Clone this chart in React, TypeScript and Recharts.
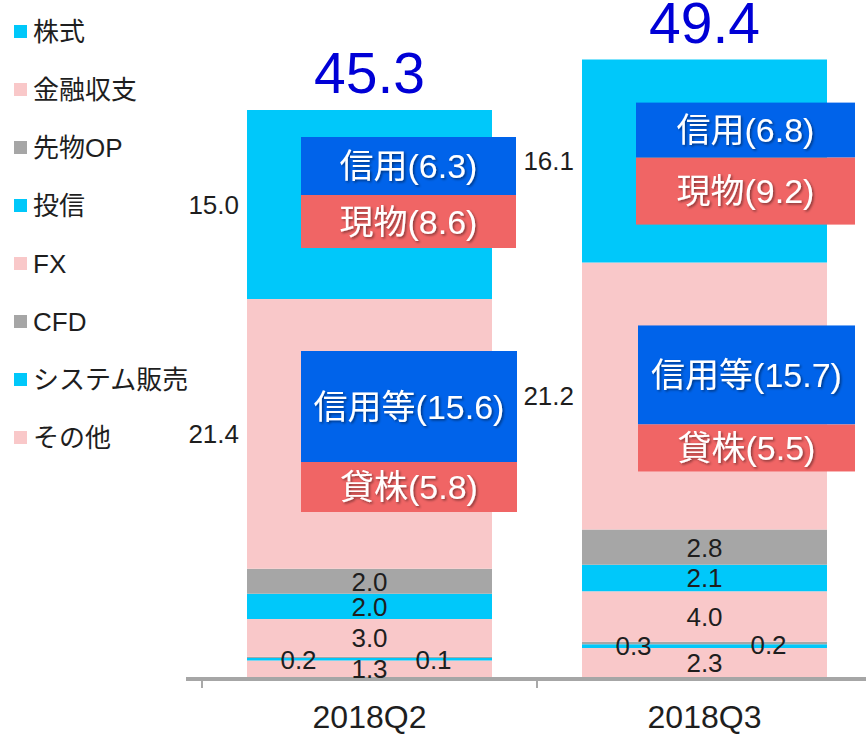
import React from 'react';
import { BarChart, Bar, XAxis, YAxis, LabelList } from 'recharts';

// ---- data ----
const categories = ['2018Q2', '2018Q3'];
const totals = [45.3, 49.4];
const sonotaVals = [1.3, 2.3];
const systemVals = [0.2, 0.3];
const cfdVals = [0.1, 0.2];
const fxVals = [3.0, 4.0];
const toushinVals = [2.0, 2.1];
const sakimonoVals = [2.0, 2.8];
const kinyuVals = [21.4, 21.2];
const kabuVals = [15.0, 16.1];

// breakdown callouts
const shinyouVals = [6.3, 6.8];
const genbutsuVals = [8.6, 9.2];
const shinyouTouVals = [15.6, 15.7];
const kashikabuVals = [5.8, 5.5];

const legendNames = ['株式', '金融収支', '先物OP', '投信', 'FX', 'CFD', 'システム販売', 'その他'];

// ---- styles / layout ----
const CYAN = '#00C8FA';
const PINK = '#F9C8C9';
const GRAY = '#A6A6A6';
const BLUE_BOX = '#0063EA';
const RED_BOX = '#F06565';
const TOTAL_BLUE = '#0000D6';
const TEXT = '#1E1E1E';
const FONT = "'Liberation Sans', Arial, 'Noto Sans CJK JP', sans-serif";
const VAL_FS = 26;

const CHART_W = 880;
const CHART_H = 735;
const MARGIN = { top: 47, right: 8, bottom: 0, left: 186 };
const PAD_LEFT = 16;
const BAND = (CHART_W - MARGIN.left - MARGIN.right - PAD_LEFT) / categories.length;

const legendColors = [CYAN, PINK, GRAY, CYAN, PINK, GRAY, CYAN, PINK];

// callout box placement relative to the bar segment (layout only)
const kabuBoxLayout = [
  { dx: 54, dy: 27, w: 215, h1: 58, h2: 53 },
  { dx: 54, dy: 43, w: 219, h1: 55, h2: 67 },
];
const kinyuBoxLayout = [
  { dx: 54, dy: 52, w: 216, h1: 111, h2: 50 },
  { dx: 56, dy: 63, w: 217, h1: 99, h2: 47 },
];

const data = categories.map((c, i) => ({
  category: c,
  sonota: sonotaVals[i],
  system: systemVals[i],
  cfd: cfdVals[i],
  fx: fxVals[i],
  toushin: toushinVals[i],
  sakimono: sakimonoVals[i],
  kinyu: kinyuVals[i],
  kabu: kabuVals[i],
}));

const fmt = (v: any) => Number(v).toFixed(1);

const CenterLabel = (p: any) => (
  <text
    x={p.x + p.width / 2}
    y={p.y + p.height / 2}
    dy="0.36em"
    textAnchor="middle"
    fontSize={VAL_FS}
    fontFamily={FONT}
    fill={TEXT}
  >
    {fmt(p.value)}
  </text>
);

const SmallLeftLabel = (p: any) => (
  <text
    x={p.x + p.width / 2 - 71}
    y={p.y + p.height / 2}
    dy="0.36em"
    textAnchor="middle"
    fontSize={VAL_FS}
    fontFamily={FONT}
    fill={TEXT}
  >
    {fmt(p.value)}
  </text>
);

const SmallRightLabel = (p: any) => (
  <text
    x={p.x + p.width / 2 + 64}
    y={p.y + p.height / 2 + 2}
    dy="0.36em"
    textAnchor="middle"
    fontSize={VAL_FS}
    fontFamily={FONT}
    fill={TEXT}
  >
    {fmt(p.value)}
  </text>
);

const SideLabel = (p: any) => (
  <text
    x={p.x - 8}
    y={p.y + p.height / 2}
    dy="0.36em"
    textAnchor="end"
    fontSize={VAL_FS}
    fontFamily={FONT}
    fill={TEXT}
  >
    {fmt(p.value)}
  </text>
);

const Callout = ({ x, y, w, h1, h2, t1, t2 }: any) => (
  <g>
    <rect x={x} y={y} width={w} height={h1} fill={BLUE_BOX} />
    <rect x={x} y={y + h1} width={w} height={h2} fill={RED_BOX} />
    <text
      x={x + w / 2}
      y={y + h1 / 2}
      dy="0.36em"
      textAnchor="middle"
      fontSize={34}
      fontFamily={FONT}
      fill="#FFFFFF"
      filter="url(#txtShadow)"
    >
      {t1}
    </text>
    <text
      x={x + w / 2}
      y={y + h1 + h2 / 2}
      dy="0.36em"
      textAnchor="middle"
      fontSize={34}
      fontFamily={FONT}
      fill="#FFFFFF"
      filter="url(#txtShadow)"
    >
      {t2}
    </text>
  </g>
);

const KabuLabel = (p: any) => {
  const i = p.index ?? 0;
  const L = kabuBoxLayout[i];
  return (
    <g>
      <SideLabel {...p} />
      <text
        x={p.x + p.width / 2}
        y={p.y - 17}
        textAnchor="middle"
        fontSize={57}
        fontFamily={FONT}
        fill={TOTAL_BLUE}
      >
        {fmt(totals[i])}
      </text>
      <Callout
        x={p.x + L.dx}
        y={p.y + L.dy}
        w={L.w}
        h1={L.h1}
        h2={L.h2}
        t1={`信用(${fmt(shinyouVals[i])})`}
        t2={`現物(${fmt(genbutsuVals[i])})`}
      />
    </g>
  );
};

const KinyuLabel = (p: any) => {
  const i = p.index ?? 0;
  const L = kinyuBoxLayout[i];
  return (
    <g>
      <SideLabel {...p} />
      <Callout
        x={p.x + L.dx}
        y={p.y + L.dy}
        w={L.w}
        h1={L.h1}
        h2={L.h2}
        t1={`信用等(${fmt(shinyouTouVals[i])})`}
        t2={`貸株(${fmt(kashikabuVals[i])})`}
      />
    </g>
  );
};

const AxisTick = (p: any) => {
  const { x, y, payload } = p;
  return (
    <g>
      <line x1={x - BAND / 2} x2={x - BAND / 2} y1={y + 4} y2={y + 11} stroke="#8C8C8C" strokeWidth={1.5} />
      <text x={x} y={y + 51} textAnchor="middle" fontSize={32} fontFamily={FONT} fill={TEXT}>
        {payload.value}
      </text>
    </g>
  );
};

export default function App() {
  return (
    <div
      style={{
        position: 'absolute',
        left: 0,
        top: 0,
        width: 866,
        height: 735,
        overflow: 'hidden',
        background: '#FFFFFF',
        fontFamily: FONT,
      }}
    >
      <svg width={0} height={0} style={{ position: 'absolute' }}>
        <defs>
          <filter id="txtShadow" x="-10%" y="-20%" width="130%" height="150%">
            <feDropShadow dx="1.5" dy="1.5" stdDeviation="1" floodColor="#000000" floodOpacity="0.45" />
          </filter>
        </defs>
      </svg>

      {legendNames.map((name, i) => (
        <div
          key={name}
          style={{
            position: 'absolute',
            left: 14,
            top: 31.5 + i * 58 - 15,
            height: 30,
            display: 'flex',
            alignItems: 'center',
            whiteSpace: 'nowrap',
          }}
        >
          <div style={{ width: 13, height: 13, background: legendColors[i], marginRight: 6 }} />
          <span style={{ fontSize: 26, color: TEXT, lineHeight: '30px' }}>{name}</span>
        </div>
      ))}

      <div style={{ position: 'absolute', left: 0, top: 0 }}>
        <BarChart width={CHART_W} height={CHART_H} data={data} margin={MARGIN}>
          <XAxis
            dataKey="category"
            height={58}
            padding={{ left: PAD_LEFT, right: 0 }}
            tickLine={false}
            tickSize={0}
            tickMargin={0}
            axisLine={{ stroke: GRAY, strokeWidth: 4, transform: 'translate(0,2)' }}
            tick={<AxisTick />}
            interval={0}
          />
          <YAxis hide domain={[0, 50]} />
          <Bar dataKey="sonota" stackId="a" fill={PINK} barSize={245} isAnimationActive={false}>
            <LabelList dataKey="sonota" content={<CenterLabel />} />
          </Bar>
          <Bar dataKey="system" stackId="a" fill={CYAN} barSize={245} isAnimationActive={false}>
            <LabelList dataKey="system" content={<SmallLeftLabel />} />
          </Bar>
          <Bar dataKey="cfd" stackId="a" fill={GRAY} barSize={245} isAnimationActive={false}>
            <LabelList dataKey="cfd" content={<SmallRightLabel />} />
          </Bar>
          <Bar dataKey="fx" stackId="a" fill={PINK} barSize={245} isAnimationActive={false}>
            <LabelList dataKey="fx" content={<CenterLabel />} />
          </Bar>
          <Bar dataKey="toushin" stackId="a" fill={CYAN} barSize={245} isAnimationActive={false}>
            <LabelList dataKey="toushin" content={<CenterLabel />} />
          </Bar>
          <Bar dataKey="sakimono" stackId="a" fill={GRAY} barSize={245} isAnimationActive={false}>
            <LabelList dataKey="sakimono" content={<CenterLabel />} />
          </Bar>
          <Bar dataKey="kinyu" stackId="a" fill={PINK} barSize={245} isAnimationActive={false}>
            <LabelList dataKey="kinyu" content={<KinyuLabel />} />
          </Bar>
          <Bar dataKey="kabu" stackId="a" fill={CYAN} barSize={245} isAnimationActive={false}>
            <LabelList dataKey="kabu" content={<KabuLabel />} />
          </Bar>
        </BarChart>
      </div>
    </div>
  );
}
